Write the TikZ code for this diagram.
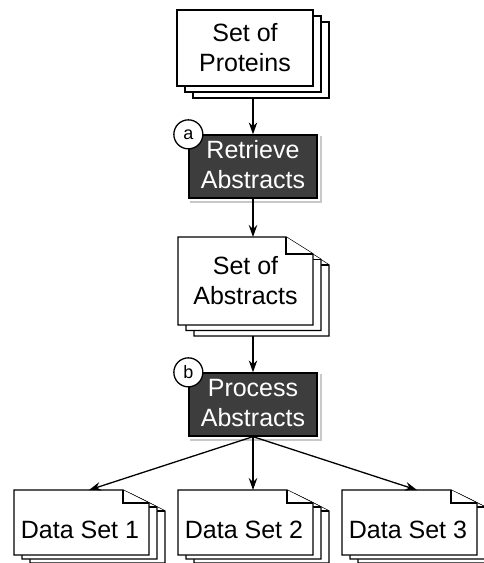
\documentclass[tikz,border=0pt]{standalone}
\usepackage{fontspec}
\setmainfont{Liberation Sans}
\usetikzlibrary{arrows.meta}
\definecolor{procfill}{HTML}{3D3D3D}
\definecolor{shadowgray}{HTML}{C8C8C8}
\newcommand\noteLayer[6]{%
  \draw[layer] (#1,#2) -- ++(#3-#5,0) -- ++(#5,#6) -- ++(0,#4-#6) -- ++(-#3,0) -- cycle;
  \draw[layer] (#1+#3-#5,#2) -- ++(0,#6) -- ++(#5,0);}
\newcommand\rectLayer[4]{%
  \draw[layer] (#1,#2) rectangle ++(#3,#4);}
\begin{document}
\begin{tikzpicture}[x=1pt,y=-1pt,
  layer/.style={draw=black, fill=white, line width=1.3pt, line join=miter},
  procbox/.style={draw=black, fill=procfill, line width=1.3pt, inner sep=0pt,
    minimum width=128pt, minimum height=63pt},
  lbl/.style={font=\fontsize{25}{30}\selectfont, align=center, inner sep=0pt},
  conn/.style={-{Stealth[length=12pt,width=8.5pt,inset=4pt]}, line width=1.3pt},
  tag/.style={circle, draw=black, fill=white, line width=1.3pt, minimum size=29pt,
    inner sep=0pt, font=\fontsize{18}{20}\selectfont},
  area/.style={inner sep=0pt, outer sep=0pt}
]
\useasboundingbox (0,0) rectangle (484,563);

% ---------- stack areas (for connectors) ----------
\node[area, minimum width=152pt, minimum height=88pt] (prot) at (253,54) {};
\node[area, minimum width=150pt, minimum height=99pt] (abs) at (253,286.5) {};
\node[area, minimum width=150pt, minimum height=73pt] (ds1) at (89,526.5) {};
\node[area, minimum width=150pt, minimum height=73pt] (ds2) at (253,526.5) {};
\node[area, minimum width=150pt, minimum height=73pt] (ds3) at (417,526.5) {};

% ---------- Set of Proteins ----------
\rectLayer{193}{22}{136}{76}
\rectLayer{185}{16}{136}{76}
\rectLayer{177}{10}{136}{76}
\node[lbl] (protT) at (245,48) {Set of\\Proteins};

% ---------- Retrieve Abstracts ----------
\node[procbox] (retr) at (253,166.5) {};
\fill[shadowgray] ([shift={(2,2)}]retr.north east) rectangle ([shift={(4,4)}]retr.south east);
\fill[shadowgray] ([shift={(2,2)}]retr.south west) rectangle ([shift={(4,4)}]retr.south east);
\node[procbox] at (retr) {};
\node[lbl, text=white] (retrT) at (253,165) {Retrieve\\Abstracts};
\node[tag] (ta) at (retr.north west) {a};

% ---------- Set of Abstracts ----------
\noteLayer{194}{248}{135}{88}{27}{17}
\noteLayer{186}{242.5}{135}{88}{27}{17}
\noteLayer{178}{237}{135}{88}{27}{17}
\node[lbl] (absT) at (245.5,281) {Set of\\Abstracts};

% ---------- Process Abstracts ----------
\node[procbox] (proc) at (253,404.5) {};
\fill[shadowgray] ([shift={(2,2)}]proc.north east) rectangle ([shift={(4,4)}]proc.south east);
\fill[shadowgray] ([shift={(2,2)}]proc.south west) rectangle ([shift={(4,4)}]proc.south east);
\node[procbox] at (proc) {};
\node[lbl, text=white] (procT) at (253,403) {Process\\Abstracts};
\node[tag] (tb) at (proc.north west) {b};

% ---------- Data Sets ----------
\noteLayer{30}{498}{135}{65}{26}{13}
\noteLayer{22}{494}{135}{65}{26}{13}
\noteLayer{14}{490}{135}{65}{26}{13}
\node[lbl] (ds1T) at (80,529.4) {Data Set 1};

\noteLayer{194}{498}{135}{65}{26}{13}
\noteLayer{186}{494}{135}{65}{26}{13}
\noteLayer{178}{490}{135}{65}{26}{13}
\node[lbl] (ds2T) at (244,529.4) {Data Set 2};

\noteLayer{358}{498}{135}{65}{26}{13}
\noteLayer{350}{494}{135}{65}{26}{13}
\noteLayer{342}{490}{135}{65}{26}{13}
\node[lbl] (ds3T) at (408,529.4) {Data Set 3};

% ---------- connectors ----------
\draw[conn] (prot.south) -- (retr.north);
\draw[conn] (retr.south) -- (abs.north);
\draw[conn] (abs.south) -- (proc.north);
\draw[conn] (proc.south) -- (ds1.north);
\draw[conn] (proc.south) -- (ds2.north);
\draw[conn] (proc.south) -- (ds3.north);
\end{tikzpicture}
\end{document}
